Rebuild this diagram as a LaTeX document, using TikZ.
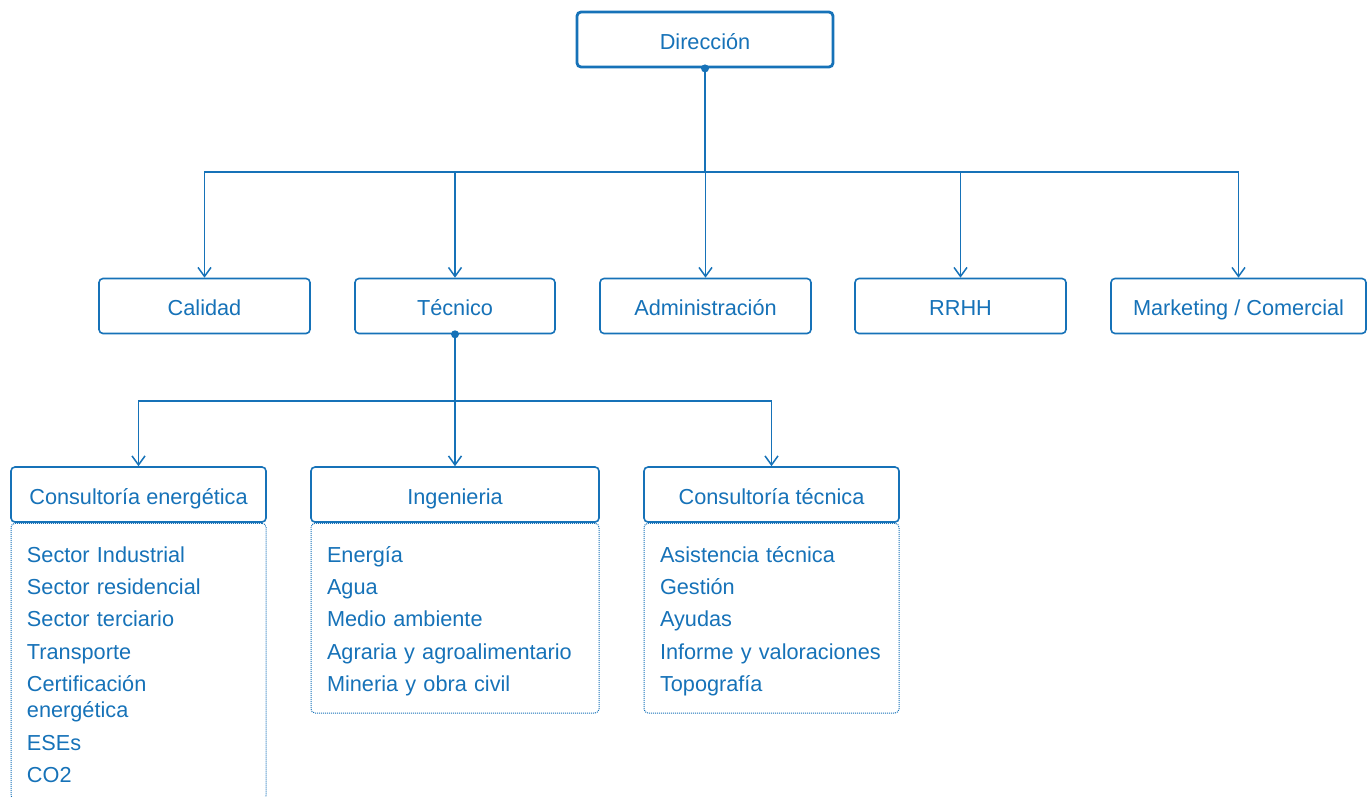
\documentclass[tikz,border=0pt]{standalone}
\usepackage{fontspec}
\setmainfont{Liberation Sans}
\usetikzlibrary{arrows.meta}
\definecolor{orgblue}{RGB}{22,114,184}

\begin{document}
\begin{tikzpicture}[x=1pt,y=-1pt,
  box/.style={draw=orgblue,line width=1.6pt,rounded corners=4pt,fill=white,text=orgblue,
    minimum height=55pt,inner sep=0pt,text height=20pt,text depth=1pt,
    font=\fontsize{21.7}{26}\selectfont},
  list/.style={draw=orgblue,densely dotted,line width=1pt,rounded corners=4pt,text=orgblue,
    align=left,anchor=north,inner xsep=16pt,inner ysep=17pt,font=\fontsize{21.7}{32.3}\selectfont},
  arr/.style={draw=orgblue,line width=1.5pt,-{Straight Barb[length=9pt,width=13pt]}}]
\useasboundingbox (0,0) rectangle (1372,796);
\node[box,line width=2.8pt,minimum width=256pt] (dir) at (705,39.5) {Dirección};
\node[box,minimum width=211pt] (cal) at (204.5,306) {Calidad};
\node[box,minimum width=200pt] (tec) at (455,306) {Técnico};
\node[box,minimum width=211pt] (adm) at (705.5,306) {Administración};
\node[box,minimum width=211pt] (rrhh) at (960.5,306) {RRHH};
\node[box,minimum width=255pt] (mkt) at (1238.5,306) {Marketing / Comercial};
\node[box,minimum width=255pt] (ce) at (138.5,494.5) {Consultoría energética};
\node[box,minimum width=288pt] (ing) at (455,494.5) {Ingenieria};
\node[box,minimum width=255pt] (ct) at (771.5,494.5) {Consultoría técnica};
\node[list,text width=223pt] (celist) at (ce.south) {\rule{0pt}{22pt}Sector Industrial\\
  Sector residencial\\ Sector terciario\\ Transporte\\ Certificación\\[-6pt]
  energética\\ ESEs\\ CO2};
\node[list,text width=256pt] (inglist) at (ing.south) {\rule{0pt}{22pt}Energía\\ Agua\\
  Medio ambiente\\ Agraria y agroalimentario\\ Mineria y obra civil};
\node[list,text width=223pt] (ctlist) at (ct.south) {\rule{0pt}{22pt}Asistencia técnica\\
  Gestión\\ Ayudas\\ Informe y valoraciones\\ Topografía};
\coordinate (bus1) at (705,172);
\coordinate (bus2) at (455,401);
\foreach \n in {cal,tec,adm,rrhh,mkt}
  \draw[arr] (dir.south) |- (\n.north |- bus1) -- (\n.north);
\foreach \n in {ce,ing,ct}
  \draw[arr] (tec.south) |- (\n.north |- bus2) -- (\n.north);
\fill[orgblue] (dir.south) circle (4pt);
\fill[orgblue] (tec.south) circle (4pt);
\end{tikzpicture}
\end{document}
